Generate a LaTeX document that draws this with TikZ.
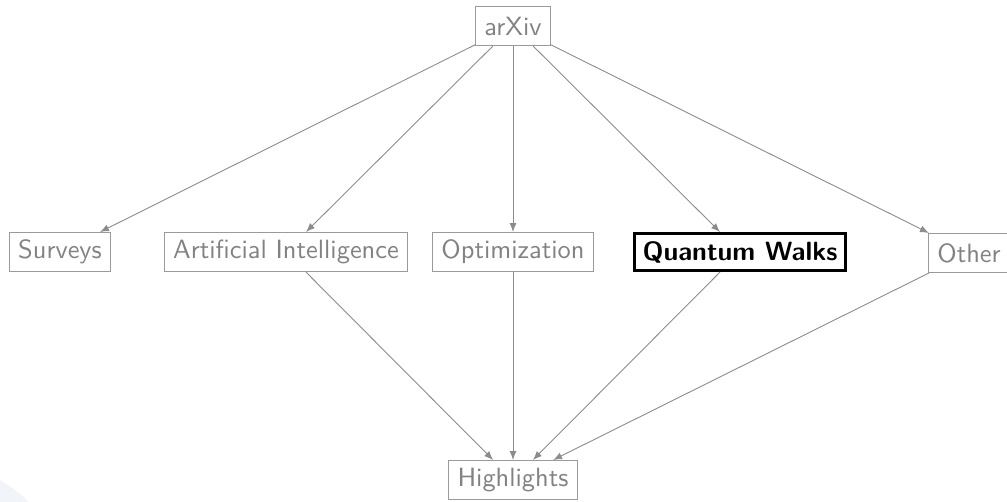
\documentclass[tikz,border=0pt]{standalone}
\usetikzlibrary{arrows.meta}
\definecolor{boxgray}{HTML}{9A9A9A}
\definecolor{textgray}{HTML}{828282}
\definecolor{linegray}{HTML}{8C8C8C}
\definecolor{sealblue}{HTML}{F1F4F9}
\newcommand{\bigtxt}[1]{\scalebox{2.64}{\sffamily #1}}
\newcommand{\bigbold}[1]{\scalebox{2.64}{\sffamily\bfseries #1}}
\begin{document}
\begin{tikzpicture}[x=1pt,y=1pt,
  cat/.style={draw=boxgray, line width=1pt, text=textgray, inner xsep=9pt, inner ysep=0pt, minimum height=39pt},
  hl/.style={draw=black, line width=3pt, text=black, inner xsep=8pt, inner ysep=0pt, minimum height=37pt},
  conn/.style={draw=linegray, line width=0.9pt, -{Latex[length=9pt,width=7pt]}}
]
\useasboundingbox (0,0) rectangle (1007,-501);
\clip (0,0) rectangle (1007,-501);
\fill[sealblue] (-60,-590) circle (125);
\node[cat] (arxiv) at (513,-26) {\bigtxt{arXiv}};
\node[cat] (surveys) at (60,-252) {\bigtxt{Surveys}};
\node[cat] (ai) at (286,-252) {\bigtxt{Artificial Intelligence}};
\node[cat] (opt) at (513,-252) {\bigtxt{Optimization}};
\node[hl] (qw) at (740,-252) {\bigbold{Quantum Walks}};
\node[cat] (other) at (969,-253) {\bigtxt{Other}};
\node[cat] (hl) at (513,-480) {\bigtxt{Highlights}};
\draw[conn] (arxiv) -- (surveys);
\draw[conn] (arxiv) -- (ai);
\draw[conn] (arxiv) -- (opt);
\draw[conn] (arxiv) -- (qw);
\draw[conn] (arxiv) -- (other);
\draw[conn] (ai) -- (hl);
\draw[conn] (opt) -- (hl);
\draw[conn] (qw) -- (hl);
\draw[conn] (other) -- (hl);
\end{tikzpicture}
\end{document}
